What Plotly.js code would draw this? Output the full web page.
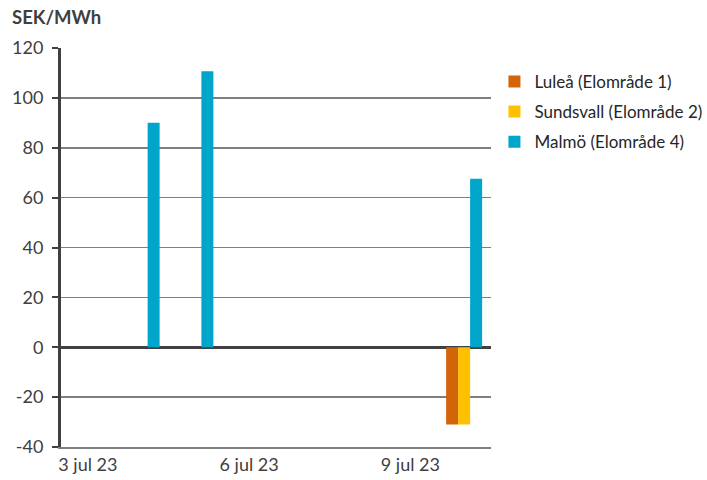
<!DOCTYPE html>
<html>
<head>
<meta charset="utf-8">
<script src="https://cdn.plot.ly/plotly-3.0.1.min.js"></script>
<style>html,body{margin:0;padding:0;background:#fff}#chart{width:707px;height:480px}</style>
</head>
<body>
<div id="chart"></div>
<script>
const categories = ['3 jul 23','4 jul 23','5 jul 23','6 jul 23','7 jul 23','8 jul 23','9 jul 23','10 jul 23'];
const tickLabels = ['3 jul 23','6 jul 23','9 jul 23'];
const yTickVals = [-40, -20, 0, 20, 40, 60, 80, 100, 120];
const yTickText = ['-40', '-20', '0', '20', '40', '60', '80', '100', '120'];
const seriesNames = ['Luleå (Elområde 1)','Sundsvall (Elområde 2)','Malmö (Elområde 4)'];
const lulea     = [null, null, null, null, null, null, null, -31];
const sundsvall = [null, null, null, null, null, null, null, -31];
const malmo     = [null, 90, 110.7, null, null, null, null, 67.6];
const colors = ['#D26508','#FFC000','#00A5CB'];

const data = [lulea, sundsvall, malmo].map((y, i) => ({
  type: 'bar', x: categories, y: y, name: seriesNames[i],
  marker: {color: colors[i], line: {width: 0}},
  legendgroup: 'g' + i
}));

const font = 'Lato, "Open Sans", sans-serif';
const layout = {
  width: 707, height: 480,
  margin: {l: 61, r: 216, t: 48, b: 33, autoexpand: false},
  paper_bgcolor: '#fff', plot_bgcolor: '#fff',
  font: {family: font, color: '#404040', size: 18},
  barmode: 'group', bargap: 0.33, bargroupgap: 0,
  title: {text: '<b>SEK/MWh</b>', x: 12/707, xanchor: 'left', y: 1 - 18/480, yanchor: 'middle',
          font: {family: font, size: 18.5, color: '#404040'}},
  xaxis: {type: 'category', tickmode: 'array', tickvals: tickLabels, ticktext: tickLabels,
          showgrid: false, showline: true, linecolor: '#7f7f7f', linewidth: 2,
          ticks: '', tickfont: {size: 18, color: '#404040'}, fixedrange: true},
  yaxis: {range: [-40, 120], tickmode: 'array', tickvals: yTickVals, ticktext: yTickText,
          showgrid: true, gridcolor: '#7f7f7f', gridwidth: 1.5,
          zeroline: true, zerolinecolor: '#404040', zerolinewidth: 3,
          showline: true, linecolor: '#404040', linewidth: 3,
          ticks: 'outside', ticklen: 6, tickwidth: 2, tickcolor: '#404040',
          ticklabelstandoff: 5,
          tickfont: {size: 18, color: '#404040'}, fixedrange: true},
  legend: {x: 1.008, xanchor: 'left', y: 0.96, yanchor: 'top', traceorder: 'grouped',
           tracegroupgap: 5, font: {size: 17, color: '#262626'}, bgcolor: 'rgba(0,0,0,0)'},
  showlegend: true
};
Plotly.newPlot('chart', data, layout, {staticPlot: true});
</script>
</body>
</html>
